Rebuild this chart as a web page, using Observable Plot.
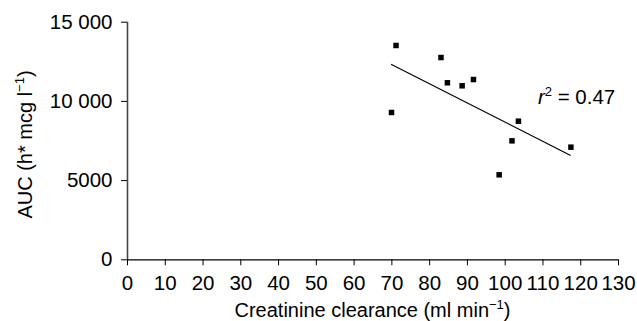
<!DOCTYPE html>
<html><head><meta charset="utf-8">
<script src="https://cdn.jsdelivr.net/npm/d3@7"></script>
<script src="https://cdn.jsdelivr.net/npm/@observablehq/plot@0.6"></script>
<style>
body{margin:0;background:#fff;}
svg text{font-family:"Liberation Sans",Arial,Helvetica,sans-serif;}
</style>
</head><body><div id="chart"></div>
<script>
// Data
const clearance = [71.1, 69.9, 83.0, 84.7, 88.6, 91.6, 103.5, 101.8, 98.4, 117.4];
const auc = [13530, 9300, 12770, 11175, 10985, 11380, 8750, 7510, 5365, 7110];
const fitX = [69.9, 117.2];
const fitY = [12330, 6605];
const xTicks = [0, 10, 20, 30, 40, 50, 60, 70, 80, 90, 100, 110, 120, 130];
const yTicks = [0, 5000, 10000, 15000];
const yTickLabels = ["0", "5000", "10 000", "15 000"];
const r2Value = "0.47";
const r2Pos = [108.8, 9800];
const xTitle = ["Creatinine clearance (ml min", "\u22121", ")"];
const yTitle = ["AUC (h* mcg l", "\u22121", ")"];

const points = clearance.map((x, i) => ({x, y: auc[i]}));
const fit = fitX.map((x, i) => ({x, y: fitY[i]}));

const chart = Plot.plot({
  width: 637,
  height: 321,
  marginLeft: 127,
  marginRight: 19,
  marginTop: 21.7,
  marginBottom: 61.7,
  style: {fontFamily: "Liberation Sans, Arial, sans-serif", fontSize: "20px", color: "#000", background: "#fff"},
  x: {domain: [0, 130]},
  y: {domain: [0, 15000]},
  marks: [
    Plot.axisX(xTicks, {tickSize: 6, tickPadding: 10, label: null, fontSize: 20.5, tickFormat: d => String(d)}),
    Plot.axisY(yTicks, {tickSize: 6, tickPadding: 9, label: null, fontSize: 20.5,
      tickFormat: d => yTickLabels[yTicks.indexOf(d)]}),
    Plot.ruleY([0], {stroke: "#000", strokeWidth: 1.2}),
    Plot.ruleX([0], {stroke: "#444", strokeWidth: 1.6}),
    Plot.line(fit, {x: "x", y: "y", stroke: "#000", strokeWidth: 1.2}),
    Plot.dot(points, {x: "x", y: "y", symbol: "square", r: 3.1, fill: "#000", stroke: "none"})
  ]
});
document.getElementById("chart").appendChild(chart);

const sx = chart.scale("x"), sy = chart.scale("y");
const svg = d3.select(chart);
const x0 = sx.apply(0), x1 = sx.apply(130);
const y0 = sy.apply(0), y1 = sy.apply(15000);

function titled(el, parts) {
  el.append("tspan").text(parts[0]);
  el.append("tspan").attr("dy", -8).attr("font-size", 13).text(parts[1]);
  el.append("tspan").attr("dy", 8).text(parts[2]);
}

const xt = svg.append("text")
  .attr("x", (x0 + x1) / 2).attr("y", 317)
  .attr("text-anchor", "middle").attr("font-size", 20).attr("fill", "#000");
titled(xt, xTitle);

const yt = svg.append("text")
  .attr("transform", `translate(32,${(y0 + y1) / 2 + 4}) rotate(-90)`)
  .attr("text-anchor", "middle").attr("font-size", 20).attr("fill", "#000");
titled(yt, yTitle);

const rt = svg.append("text")
  .attr("x", sx.apply(r2Pos[0])).attr("y", sy.apply(r2Pos[1]))
  .attr("text-anchor", "start")
  .attr("font-size", 20.5).attr("fill", "#000");
rt.append("tspan").attr("font-style", "italic").text("r");
rt.append("tspan").attr("dy", -8).attr("font-size", 13).text("2");
rt.append("tspan").attr("dy", 8).text(" = " + r2Value);
</script>
</body></html>
